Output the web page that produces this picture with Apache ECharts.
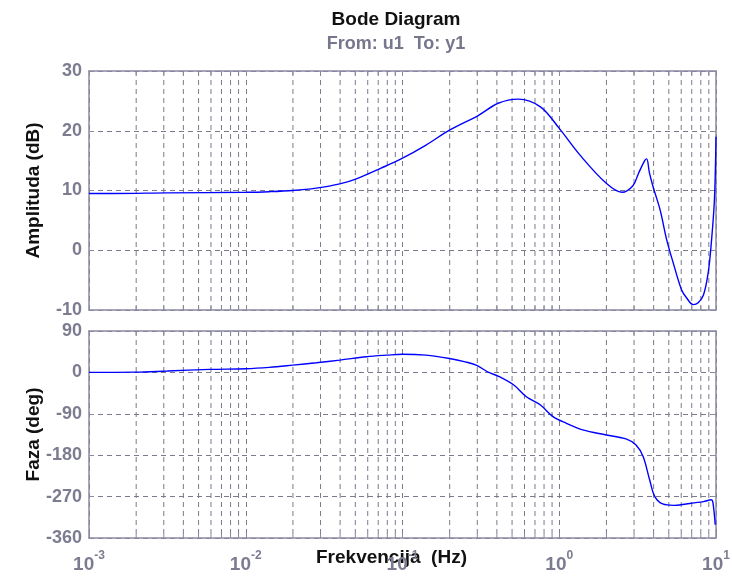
<!DOCTYPE html>
<html>
<head>
<meta charset="utf-8">
<title>Bode Diagram</title>
<script src="https://cdn.jsdelivr.net/npm/echarts@6/dist/echarts.min.js"></script>
<style>
  html, body { margin: 0; padding: 0; background: #fff; }
  #chart { width: 732px; height: 577px; }
</style>
</head>
<body>
<div id="chart"></div>
<script>
// Frequency points as decimal exponents (f = 10^e Hz)
const magExp = [-3.0, -2.85, -2.5, -2.0, -1.85, -1.7, -1.55, -1.4, -1.29, -1.14, -1.0, -0.85, -0.7,
  -0.52, -0.39, -0.26, -0.12, 0.0, 0.13, 0.3, 0.4, 0.47, 0.506, 0.545, 0.558, 0.575, 0.6, 0.643,
  0.686, 0.728, 0.78, 0.813, 0.855, 0.886, 0.92, 0.95, 0.97, 0.99, 1.0];
// Magnitude (dB)
const magDb = [9.5, 9.5, 9.6, 9.7, 9.8, 10.0, 10.4, 11.1, 12.0, 13.7, 15.4, 17.6, 20.1,
  22.5, 24.6, 25.3, 24.0, 20.4, 16.0, 11.2, 9.7, 10.8, 12.9, 15.0, 15.3, 13.0, 10.5, 6.8,
  1.7, -2.2, -6.6, -8.0, -9.1, -8.8, -7.5, -3.8, 1.2, 8.5, 19.0];

const phaseExp = [-3.0, -2.71, -2.5, -2.23, -2.0, -1.85, -1.7, -1.55, -1.4, -1.23, -1.1, -1.0,
  -0.85, -0.7, -0.6, -0.53, -0.45, -0.39, -0.29, -0.21, -0.12, -0.04, 0.046, 0.15, 0.3, 0.43,
  0.49, 0.535, 0.577, 0.61, 0.66, 0.73, 0.81, 0.92, 0.97, 0.98, 0.995];
// Phase (deg)
const phaseDeg = [0, 0.5, 3, 6.5, 8, 11, 15.8, 21, 26.7, 34, 37.5, 39.5,
  37.5, 30.3, 23, 15.8, 0, -8, -27.5, -53, -71, -96, -110.6, -125, -136, -145,
  -158, -183, -234, -270, -286, -289, -286, -281, -277, -282, -331];

// Axis ranges and tick labels
const decadeExps = [-3, -2, -1, 0, 1];
const magTicks = [-10, 0, 10, 20, 30];
const phaseTicks = [-360, -270, -180, -90, 0, 90];
const minorMults = [2, 3, 4, 5, 6, 7, 8, 9];

const fMin = Math.pow(10, decadeExps[0]);
const fMax = Math.pow(10, decadeExps[decadeExps.length - 1]);

const toPairs = (ex, vals) => ex.map((e, i) => [Math.pow(10, e), vals[i]]);
const minorFreqs = [];
for (let d = decadeExps[0]; d < decadeExps[decadeExps.length - 1]; d++) {
  minorMults.forEach(k => minorFreqs.push(k * Math.pow(10, d)));
}

const frameColor = '#8a8aa2';
const gridColor = '#7a7a8c';
const labelColor = '#7c7c90';
const fontFam = '"Liberation Sans", Arial, sans-serif';

// minor (2..9) grid lines with small inward ticks on top and bottom edges
function minorRender(params, api) {
  const cs = params.coordSys;
  const x = api.coord([api.value(0), 0])[0];
  const top = cs.y, bot = cs.y + cs.height;
  return {
    type: 'group',
    children: [
      { type: 'line', shape: { x1: x, y1: top, x2: x, y2: bot },
        style: { stroke: gridColor, lineWidth: 1, lineDash: [5, 4] } },
      { type: 'line', shape: { x1: x, y1: bot, x2: x, y2: bot - 4 },
        style: { stroke: frameColor, lineWidth: 1 } },
      { type: 'line', shape: { x1: x, y1: top, x2: x, y2: top + 4 },
        style: { stroke: frameColor, lineWidth: 1 } }
    ]
  };
}

function xAxisBase(gridIndex, position, showLabels, name) {
  return {
    type: 'log', logBase: 10, gridIndex, position,
    min: fMin, max: fMax,
    axisLine: { show: true, onZero: false, lineStyle: { color: frameColor, width: 1.5 } },
    axisTick: { show: true, inside: true, length: 5, lineStyle: { color: frameColor } },
    splitLine: { show: position === 'bottom', lineStyle: { color: gridColor, type: [5, 4] } },
    axisLabel: {
      show: showLabels, margin: 12,
      formatter: v => '{b|10}{s|' + Math.round(Math.log10(v)) + '}',
      rich: {
        b: { fontSize: 19, fontWeight: 'bold', color: labelColor, fontFamily: fontFam, lineHeight: 24, verticalAlign: 'bottom' },
        s: { fontSize: 12, fontWeight: 'bold', color: labelColor, fontFamily: fontFam, lineHeight: 24, verticalAlign: 'top', padding: [0, 0, 8, 0] }
      }
    },
    name: name || '',
    nameLocation: 'middle', nameGap: 10, nameMoveOverlap: false,
    nameTextStyle: { fontSize: 19, fontWeight: 'bold', color: '#111', fontFamily: fontFam,
      verticalAlign: 'top', padding: [0, 22, 0, 0] }
  };
}

function yAxisBase(gridIndex, position, lo, hi, step, name) {
  const left = position === 'left';
  return {
    type: 'value', gridIndex, position, min: lo, max: hi, interval: step,
    axisLine: { show: true, onZero: false, lineStyle: { color: frameColor, width: 1.5 } },
    axisTick: { show: true, inside: true, length: 5, lineStyle: { color: frameColor } },
    splitLine: { show: left, lineStyle: { color: gridColor, type: [5, 4] } },
    axisLabel: { show: left, margin: 7, fontSize: 18, fontWeight: 'bold', color: labelColor, fontFamily: fontFam },
    name: left ? name : '',
    nameLocation: 'middle', nameGap: 46, nameRotate: 90, nameMoveOverlap: false,
    nameTextStyle: { fontSize: 19, fontWeight: 'bold', color: '#111', fontFamily: fontFam }
  };
}

const chart = echarts.init(document.getElementById('chart'), null, { renderer: 'canvas' });
chart.setOption({
  animation: false,
  backgroundColor: '#ffffff',
  title: [
    { text: 'Bode Diagram', left: 391, top: 5, textAlign: 'center',
      textStyle: { fontSize: 19, fontWeight: 'bold', color: '#111', fontFamily: fontFam } },
    { text: 'From: u1  To: y1', left: 391, top: 30, textAlign: 'center',
      textStyle: { fontSize: 18, fontWeight: 'bold', color: '#76768c', fontFamily: fontFam } }
  ],
  grid: [
    { left: 89, top: 71, width: 627, height: 239, containLabel: false, outerBoundsMode: 'none' },
    { left: 89, top: 331, width: 627, height: 207, containLabel: false, outerBoundsMode: 'none' }
  ],
  xAxis: [
    xAxisBase(0, 'bottom', false),
    xAxisBase(0, 'top', false),
    xAxisBase(1, 'bottom', true, 'Frekvencija  (Hz)'),
    xAxisBase(1, 'top', false)
  ],
  yAxis: [
    yAxisBase(0, 'left', magTicks[0], magTicks[magTicks.length - 1], 10, 'Amplituda (dB)'),
    yAxisBase(0, 'right', magTicks[0], magTicks[magTicks.length - 1], 10),
    yAxisBase(1, 'left', phaseTicks[0], phaseTicks[phaseTicks.length - 1], 90, 'Faza (deg)'),
    yAxisBase(1, 'right', phaseTicks[0], phaseTicks[phaseTicks.length - 1], 90)
  ],
  series: [
    { type: 'custom', xAxisIndex: 0, yAxisIndex: 0, z: 1, silent: true,
      renderItem: minorRender, data: minorFreqs.map(f => [f]) },
    { type: 'custom', xAxisIndex: 2, yAxisIndex: 2, z: 1, silent: true,
      renderItem: minorRender, data: minorFreqs.map(f => [f]) },
    { name: 'Amplituda', type: 'line', xAxisIndex: 0, yAxisIndex: 0, z: 5,
      data: toPairs(magExp, magDb), smooth: 0.35, showSymbol: false,
      lineStyle: { color: '#0000ff', width: 1.4 } },
    { name: 'Faza', type: 'line', xAxisIndex: 2, yAxisIndex: 2, z: 5,
      data: toPairs(phaseExp, phaseDeg), smooth: 0.35, showSymbol: false,
      lineStyle: { color: '#0000ff', width: 1.4 } }
  ]
});
</script>
</body>
</html>
